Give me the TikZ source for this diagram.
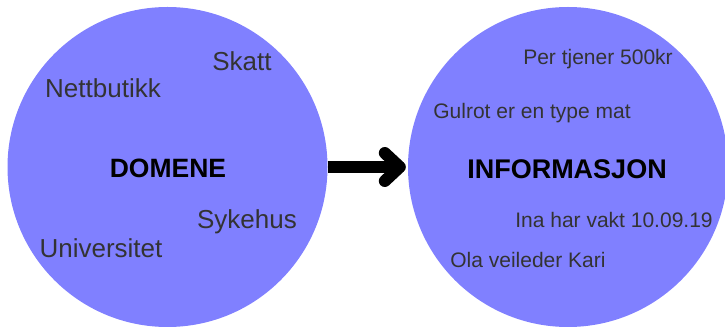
\documentclass[tikz,border=0pt]{standalone}
\usepackage{fontspec}
\setmainfont{Liberation Sans}
\definecolor{blob}{RGB}{128,128,255}
\definecolor{txt}{RGB}{51,51,51}
\tikzset{
  blobnode/.style={circle, fill=blob, minimum size=320pt, inner sep=0pt},
  biglabel/.style={font=\fontsize{26}{30}\selectfont, text=txt, inner sep=0pt},
  smalllabel/.style={font=\fontsize{21}{25}\selectfont, text=txt, inner sep=0pt},
  title/.style={font=\bfseries, text=black, inner sep=0pt},
  thick arrow/.style={line width=12pt, line cap=butt},
  chevron/.style={line width=12pt, line cap=round, line join=round}
}
\begin{document}
\begin{tikzpicture}[x=1pt,y=-1pt]
\useasboundingbox (0,0) rectangle (725,328);
\node[blobnode] (L) at (167.5,167) {};
\node[blobnode] (R) at (568,167) {};
\node[title, font=\bfseries\fontsize{26.5}{31}\selectfont] (dom) at (168,168) {DOMENE};
\node[title, font=\bfseries\fontsize{27}{32}\selectfont] (inf) at (567,169) {INFORMASJON};
\node[biglabel] (skatt) at (242,61) {Skatt};
\node[biglabel] (nett) at (103,88) {Nettbutikk};
\node[biglabel] (syke) at (247,222) {Sykehus};
\node[biglabel] (uni) at (101,248) {Universitet};
\node[smalllabel] (per) at (598,59) {Per tjener 500kr};
\node[smalllabel] (gul) at (532,113) {Gulrot er en type mat};
\node[smalllabel] (ina) at (614,220) {Ina har vakt 10.09.19};
\node[smalllabel] (ola) at (528,260) {Ola veileder Kari};
\coordinate (tip) at ([xshift=-8pt]R.west);
\draw[thick arrow] (L.east) -- (tip);
\draw[chevron] ([xshift=-15pt,yshift=-14pt]tip) -- (tip) -- ([xshift=-15pt,yshift=14pt]tip);
\end{tikzpicture}
\end{document}
